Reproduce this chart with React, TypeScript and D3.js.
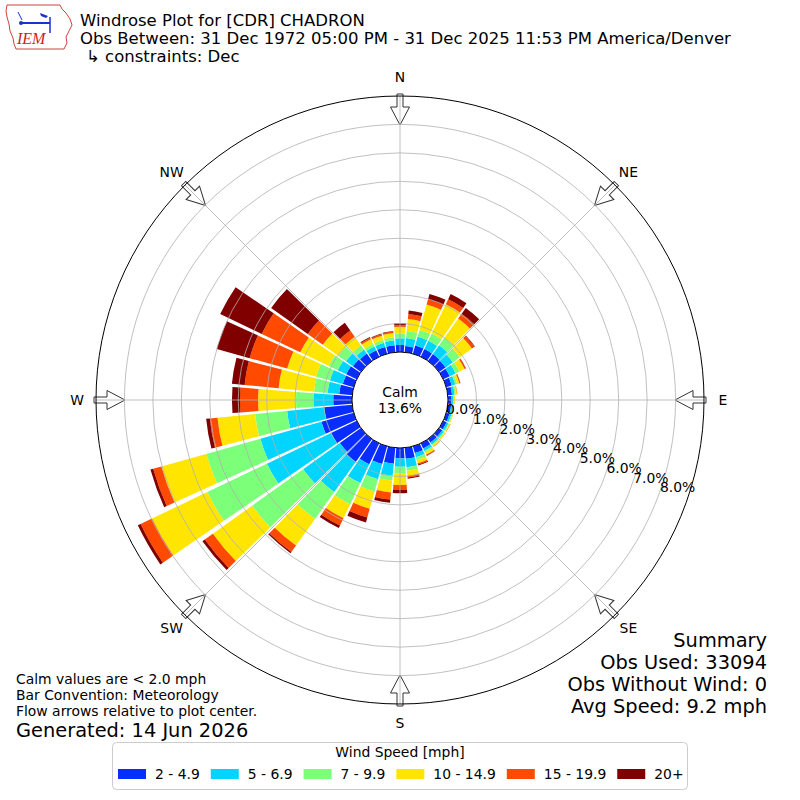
import { useEffect, useRef } from 'react';
import * as d3 from 'd3';

// wind direction (deg, meteorological) and frequency (%) per speed bin
const directions = [0, 10, 20, 30, 40, 50, 60, 70, 80, 90, 100, 110, 120, 130, 140, 150, 160, 170,
  180, 190, 200, 210, 220, 230, 240, 250, 260, 270, 280, 290, 300, 310, 320, 330, 340, 350];

const speedLabels = ['2 - 4.9', '5 - 6.9', '7 - 9.9', '10 - 14.9', '15 - 19.9', '20+'];
const speedColors = ['#0a2dff', '#00d4ff', '#7cff79', '#ffe500', '#ff4a00', '#800000'];

const pct2to5 = [0.25, 0.22, 0.30, 0.30, 0.30, 0.28, 0.25, 0.20, 0.15, 0.12, 0.12, 0.12, 0.13, 0.14, 0.15, 0.20, 0.25, 0.39,
  0.36, 0.56, 0.65, 0.82, 0.99, 0.91, 1.00, 1.18, 0.99, 0.66, 0.46, 0.40, 0.41, 0.35, 0.32, 0.25, 0.25, 0.25];
const pct5to7 = [0.23, 0.28, 0.32, 0.32, 0.38, 0.32, 0.23, 0.13, 0.09, 0.07, 0.06, 0.07, 0.07, 0.07, 0.08, 0.10, 0.15, 0.30,
  0.30, 0.43, 0.55, 0.73, 1.30, 1.59, 2.50, 2.23, 1.31, 0.70, 0.41, 0.47, 0.33, 0.30, 0.17, 0.15, 0.15, 0.17];
const pct7to10 = [0.18, 0.25, 0.25, 0.28, 0.32, 0.30, 0.15, 0.07, 0.05, 0.03, 0.03, 0.03, 0.04, 0.04, 0.05, 0.06, 0.10, 0.12,
  0.23, 0.17, 0.45, 0.82, 1.16, 2.20, 2.32, 1.97, 1.13, 0.61, 0.48, 0.50, 0.35, 0.33, 0.19, 0.10, 0.10, 0.11];
const pct10to15 = [0.23, 0.42, 0.93, 1.14, 0.83, 0.52, 0.20, 0.08, 0.04, 0.03, 0.02, 0.03, 0.03, 0.04, 0.05, 0.08, 0.12, 0.18,
  0.41, 0.42, 0.63, 0.55, 1.15, 1.70, 2.16, 1.64, 1.33, 1.33, 1.25, 1.06, 1.11, 0.67, 0.37, 0.18, 0.16, 0.15];
const pct15to20 = [0.06, 0.18, 0.19, 0.20, 0.21, 0.11, 0.05, 0.03, 0.01, 0.00, 0.00, 0.00, 0.01, 0.01, 0.01, 0.04, 0.05, 0.06,
  0.18, 0.25, 0.32, 0.28, 0.28, 0.35, 0.44, 0.30, 0.27, 0.64, 1.20, 1.37, 1.50, 0.65, 0.27, 0.06, 0.05, 0.05];
const pct20plus = [0.06, 0.12, 0.19, 0.20, 0.25, 0.02, 0.01, 0.01, 0.00, 0.00, 0.00, 0.00, 0.00, 0.00, 0.00, 0.01, 0.03, 0.04,
  0.11, 0.11, 0.18, 0.10, 0.05, 0.10, 0.11, 0.10, 0.13, 0.28, 0.45, 1.20, 1.62, 1.58, 0.33, 0.03, 0.03, 0.02];

const ringValues = [0, 1, 2, 3, 4, 5, 6, 7, 8];
const compassNames = ['N', 'NE', 'E', 'SE', 'S', 'SW', 'W', 'NW'];
const compassAngles = [0, 45, 90, 135, 180, 225, 270, 315];
const calmPercent = 13.6;

const titleLines = [
  'Windrose Plot for [CDR] CHADRON',
  'Obs Between: 31 Dec 1972 05:00 PM - 31 Dec 2025 11:53 PM America/Denver',
  '\u21b3 constraints: Dec',
];
const summaryLines = ['Summary', 'Obs Used: 33094', 'Obs Without Wind: 0', 'Avg Speed: 9.2 mph'];
const noteLines = ['Calm values are < 2.0 mph', 'Bar Convention: Meteorology', 'Flow arrows relative to plot center.'];
const generatedText = 'Generated: 14 Jun 2026';

type Row = { dir: number; [key: string]: number };

export default function App() {
  const svgRef = useRef<SVGSVGElement>(null);

  useEffect(() => {
    if (!svgRef.current) return;
    const svg = d3.select(svgRef.current);
    svg.selectAll('*').remove();

    const font = 'DejaVu Sans, sans-serif';
    const small = '13.9px';
    const cx = 400;
    const cy = 400;
    const rad = (deg: number) => (deg * Math.PI) / 180;

    svg.append('rect').attr('width', 800).attr('height', 800).attr('fill', '#ffffff');

    const keys = ['s0', 's1', 's2', 's3', 's4', 's5'];
    const bins = [pct2to5, pct5to7, pct7to10, pct10to15, pct15to20, pct20plus];
    const rows: Row[] = directions.map((dir, i) => {
      const row: Row = { dir };
      keys.forEach((k, j) => { row[k] = bins[j][i]; });
      return row;
    });
    const series = d3.stack<Row>().keys(keys)(rows);

    const r = d3.scaleLinear().domain([0, 9]).range([48, 304]);
    const halfWidth = rad(4.45);
    const arc = d3.arc<{ innerRadius: number; outerRadius: number; startAngle: number; endAngle: number }>();

    const g = svg.append('g').attr('transform', `translate(${cx},${cy})`);

    // bars
    series.forEach((s, i) => {
      g.append('g')
        .selectAll('path')
        .data(s)
        .enter()
        .append('path')
        .attr('d', d => arc({
          innerRadius: r(d[0]),
          outerRadius: r(d[1]),
          startAngle: rad(d.data.dir) - halfWidth,
          endAngle: rad(d.data.dir) + halfWidth,
        }) || '')
        .attr('fill', speedColors[i]);
    });

    // flow arrows pointing to center
    const rOut = r(9);
    const arrowPts: [number, number][] = [
      [-3, -(rOut + 2)], [3, -(rOut + 2)], [3, -(rOut - 11)], [9.5, -(rOut - 11)],
      [0, -(rOut - 29)], [-9.5, -(rOut - 11)], [-3, -(rOut - 11)],
    ];
    g.selectAll('polygon.arrow')
      .data(compassAngles)
      .enter()
      .append('polygon')
      .attr('class', 'arrow')
      .attr('points', arrowPts.map(p => p.join(',')).join(' '))
      .attr('transform', d => `rotate(${d})`)
      .attr('fill', '#ffffff')
      .attr('stroke', '#333333')
      .attr('stroke-width', 1);

    // grid
    g.selectAll('circle.ring')
      .data(ringValues.slice(1))
      .enter()
      .append('circle')
      .attr('class', 'ring')
      .attr('r', d => r(d))
      .attr('fill', 'none')
      .attr('stroke', '#b0b0b0')
      .attr('stroke-width', 0.8);

    g.selectAll('line.spoke')
      .data(compassAngles)
      .enter()
      .append('line')
      .attr('class', 'spoke')
      .attr('x1', 0).attr('y1', 0)
      .attr('x2', d => Math.sin(rad(d)) * rOut)
      .attr('y2', d => -Math.cos(rad(d)) * rOut)
      .attr('stroke', '#b0b0b0')
      .attr('stroke-width', 0.8);

    g.append('circle').attr('r', rOut).attr('fill', 'none').attr('stroke', '#000').attr('stroke-width', 1);

    // calm circle
    g.append('circle').attr('r', r(0)).attr('fill', '#ffffff').attr('stroke', '#000').attr('stroke-width', 1);
    g.append('text').attr('x', 0).attr('y', -3).attr('text-anchor', 'middle')
      .style('font-family', font).style('font-size', small).text('Calm');
    g.append('text').attr('x', 0).attr('y', 13).attr('text-anchor', 'middle')
      .style('font-family', font).style('font-size', small).text(`${calmPercent.toFixed(1)}%`);

    // ring labels
    const labelAngle = rad(110);
    g.selectAll('text.rlabel')
      .data(ringValues)
      .enter()
      .append('text')
      .attr('class', 'rlabel')
      .attr('x', d => Math.sin(labelAngle) * r(d) + 1)
      .attr('y', d => -Math.cos(labelAngle) * r(d) - 2)
      .style('font-family', font)
      .style('font-size', small)
      .text(d => `${d.toFixed(1)}%`);

    // compass labels
    g.selectAll('text.compass')
      .data(compassNames)
      .enter()
      .append('text')
      .attr('class', 'compass')
      .attr('x', (_, i) => Math.sin(rad(compassAngles[i])) * 323)
      .attr('y', (_, i) => -Math.cos(rad(compassAngles[i])) * 323)
      .attr('dy', '0.36em')
      .attr('text-anchor', 'middle')
      .style('font-family', font)
      .style('font-size', small)
      .text(d => d);

    // titles
    titleLines.forEach((t, i) => {
      svg.append('text')
        .attr('x', i === 2 ? 86 : 80)
        .attr('y', 25.5 + i * 18.4)
        .style('font-family', font)
        .style('font-size', '16.5px')
        .text(t);
    });

    summaryLines.forEach((t, i) => {
      svg.append('text')
        .attr('x', 767)
        .attr('y', 647 + i * 22)
        .attr('text-anchor', 'end')
        .style('font-family', font)
        .style('font-size', '19.4px')
        .text(t);
    });

    noteLines.forEach((t, i) => {
      svg.append('text')
        .attr('x', 16)
        .attr('y', 684 + i * 16)
        .style('font-family', font)
        .style('font-size', small)
        .text(t);
    });
    svg.append('text').attr('x', 16).attr('y', 737)
      .style('font-family', font).style('font-size', '19.4px').text(generatedText);

    // legend
    const legend = svg.append('g');
    legend.append('rect')
      .attr('x', 112.5).attr('y', 742.5).attr('width', 575).attr('height', 47).attr('rx', 4)
      .attr('fill', '#ffffff').attr('stroke', '#cccccc');
    legend.append('text').attr('x', 400).attr('y', 757).attr('text-anchor', 'middle')
      .style('font-family', font).style('font-size', small).text('Wind Speed [mph]');
    let lx = 118;
    speedLabels.forEach((label, i) => {
      legend.append('rect').attr('x', lx).attr('y', 769).attr('width', 28).attr('height', 10).attr('fill', speedColors[i]);
      const t = legend.append('text').attr('x', lx + 37).attr('y', 779)
        .style('font-family', font).style('font-size', small).text(label);
      const w = (t.node() as SVGTextElement).getComputedTextLength();
      lx += 37 + w + 11;
    });

    // IEM logo
    const logo = svg.append('g');
    logo.append('path')
      .attr('d', 'M7,5 L60,5 L62,9 L66,13 L70,19 L72,25 L69,31 L66,37 L67,43 L64,49 L16,49 L14,44 L13,38 L10,31 L9,24 L7,17 L6,11 Z')
      .attr('fill', 'none').attr('stroke', '#d04040').attr('stroke-width', 1);
    logo.append('line').attr('x1', 22).attr('y1', 23).attr('x2', 50).attr('y2', 23)
      .attr('stroke', '#1a33cc').attr('stroke-width', 2);
    logo.append('line').attr('x1', 18).attr('y1', 12).attr('x2', 22).attr('y2', 20)
      .attr('stroke', '#1a33cc').attr('stroke-width', 1);
    logo.append('circle').attr('cx', 21).attr('cy', 23).attr('r', 2).attr('fill', '#1a33cc');
    logo.append('path').attr('d', 'M40,13 L48,16 L46,18 L41,16 Z').attr('fill', '#1a33cc');
    logo.append('line').attr('x1', 50).attr('y1', 17).attr('x2', 50).attr('y2', 33)
      .attr('stroke', '#1a33cc').attr('stroke-width', 1.5);
    logo.append('text').attr('x', 17).attr('y', 44)
      .style('font-family', 'Liberation Serif, serif').style('font-style', 'italic')
      .style('font-size', '16px').attr('fill', '#cc2222').text('IEM');
  }, []);

  return (
    <div style={{ position: 'absolute', left: 0, top: 0 }}>
      <svg ref={svgRef} width={800} height={800} />
    </div>
  );
}
